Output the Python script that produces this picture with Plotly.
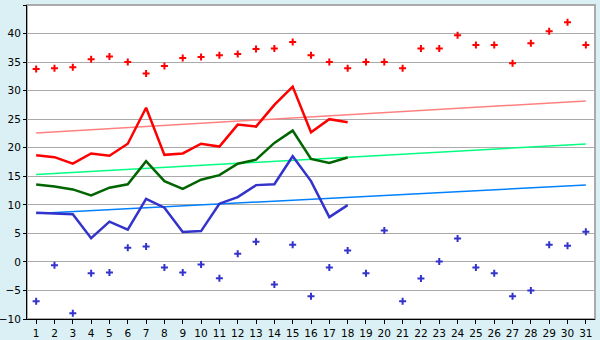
import plotly.graph_objects as go

days = list(range(1, 32))
tick_labels = [str(d) for d in days]

max_points = [33.8, 33.9, 34.1, 35.5, 36.0, 35.0, 33.0, 34.3, 35.7, 35.9,
              36.2, 36.4, 37.3, 37.4, 38.5, 36.2, 35.0, 33.9, 35.0, 35.0,
              33.9, 37.4, 37.4, 39.7, 38.0, 38.0, 34.8, 38.3, 40.4, 42.0, 38.0]
min_points = [-6.9, -0.6, -9.0, -2.0, -1.85, 2.5, 2.7, -1.0, -1.85, -0.45,
              -2.85, 1.45, 3.55, -3.95, 3.0, -6.0, -1.0, 2.0, -2.0, 5.5,
              -6.9, -2.9, 0.05, 4.1, -1.0, -2.0, -6.0, -5.0, 3.0, 2.85, 5.3]

line_days = list(range(1, 19))
red_line = [18.7, 18.35, 17.2, 19.0, 18.6, 20.7, 27.0, 18.75, 19.0, 20.7,
            20.2, 24.05, 23.7, 27.5, 30.7, 22.7, 25.0, 24.45]
green_line = [13.55, 13.2, 12.7, 11.65, 13.0, 13.6, 17.65, 14.15, 12.8, 14.4,
              15.2, 17.2, 17.9, 20.85, 23.0, 18.05, 17.35, 18.3]
blue_line = [8.6, 8.45, 8.35, 4.15, 7.05, 5.65, 11.05, 9.5, 5.25, 5.4,
             10.2, 11.35, 13.45, 13.6, 18.5, 14.15, 7.85, 9.95]

trend_days = [1, 31]
red_trend = [22.6, 28.2]
green_trend = [15.3, 20.65]
blue_trend = [8.5, 13.45]

y_ticks = [-10, -5, 0, 5, 10, 15, 20, 25, 30, 35, 40, 45]
y_tick_labels = ["−10", "−5", "0", "5", "10", "15", "20", "25", "30", "35", "40", "45"]

fig = go.Figure()

fig.add_trace(go.Scatter(x=trend_days, y=red_trend, mode="lines",
                         line=dict(color="#FF8080", width=1.5), hoverinfo="skip"))
fig.add_trace(go.Scatter(x=trend_days, y=green_trend, mode="lines",
                         line=dict(color="#00FF80", width=1.5), hoverinfo="skip"))
fig.add_trace(go.Scatter(x=trend_days, y=blue_trend, mode="lines",
                         line=dict(color="#0080FF", width=1.5), hoverinfo="skip"))

fig.add_trace(go.Scatter(x=line_days, y=red_line, mode="lines",
                         line=dict(color="#FF0000", width=2.5)))
fig.add_trace(go.Scatter(x=line_days, y=green_line, mode="lines",
                         line=dict(color="#006400", width=2.5)))
fig.add_trace(go.Scatter(x=line_days, y=blue_line, mode="lines",
                         line=dict(color="#3333CC", width=2.5)))

fig.add_trace(go.Scatter(x=days, y=max_points, mode="markers",
                         marker=dict(symbol="cross-thin", size=5, color="#FF0000",
                                     line=dict(width=2, color="#FF0000"))))
fig.add_trace(go.Scatter(x=days, y=min_points, mode="markers",
                         marker=dict(symbol="cross-thin", size=5, color="#3333CC",
                                     line=dict(width=2, color="#3333CC"))))

fig.add_shape(type="rect", xref="paper", yref="paper", x0=0, x1=1, y0=0, y1=1,
              line=dict(color="#AAAAAA", width=2), layer="below")

fig.update_layout(
    width=600, height=340,
    margin=dict(l=27, r=5, t=5, b=21),
    paper_bgcolor="#DAF0F5",
    plot_bgcolor="#FFFFFF",
    showlegend=False,
    font=dict(family="DejaVu Sans", size=10, color="#000000"),
)
fig.update_xaxes(
    range=[0.5, 31.5], tickmode="array", tickvals=days, ticktext=tick_labels,
    showgrid=False, zeroline=False, showline=True, linecolor="#000000", linewidth=1,
    ticks="outside", ticklen=4, tickcolor="#000000", tickwidth=1,
    tickfont=dict(size=10.5),
    automargin=False,
)
fig.update_yaxes(
    range=[-10, 45], tickmode="array", tickvals=y_ticks, ticktext=y_tick_labels,
    showgrid=True, gridcolor="#AAAAAA", gridwidth=1, zeroline=False,
    showline=True, linecolor="#000000", linewidth=1,
    ticks="outside", ticklen=3, tickcolor="#000000", tickwidth=1,
    tickfont=dict(size=10.5),
    automargin=False,
)

fig.write_html("out.html")
